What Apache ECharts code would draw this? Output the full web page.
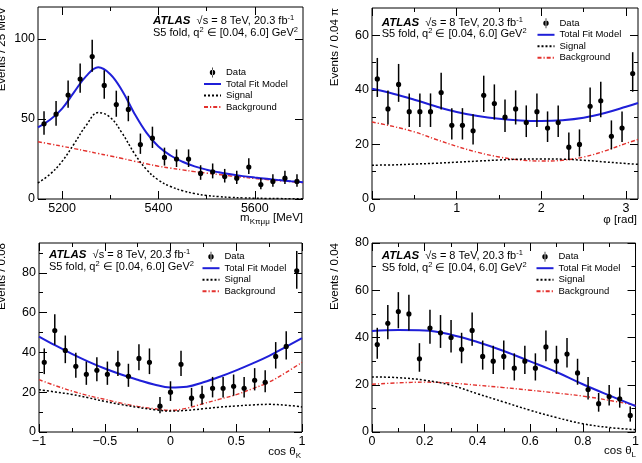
<!DOCTYPE html>
<html>
<head>
<meta charset="utf-8">
<script src="https://cdn.jsdelivr.net/npm/echarts@6/dist/echarts.min.js"></script>
<style>
html,body{margin:0;padding:0;background:#fff;}
#chart{width:642px;height:463px;}
</style>
</head>
<body>
<div id="chart"></div>
<script>
// ---------------- Panel 1 : m(K pi mu mu) ----------------
const massBins = [5162.5,5187.5,5212.5,5237.5,5262.5,5287.5,5312.5,5337.5,5362.5,5387.5,5412.5,5437.5,5462.5,5487.5,5512.5,5537.5,5562.5,5587.5,5612.5,5637.5,5662.5,5687.5];
const massData = [47,53,65,75,89,71,59,56,34,38,26,25,25,16,17,14,13,20,9,11,13,11];
const massErrLo = [6.8,7.2,8.0,8.6,9.4,8.4,7.6,7.4,5.8,6.1,5.1,5.0,5.0,4.0,4.1,3.7,3.6,4.4,2.9,3.3,3.6,3.3];
const massErrHi = [7.9,8.3,9.1,9.7,10.5,9.5,8.7,8.5,6.9,7.2,6.1,6.0,6.0,5.1,5.2,4.8,4.6,5.5,4.1,4.4,4.6,4.4];
const massCurveX = [5150,5175,5200,5225,5250,5275,5300,5325,5350,5375,5400,5425,5450,5475,5500,5525,5550,5575,5600,5625,5650,5675,5700];
const massTotal = [44.8,49.5,56.5,66.8,76.8,82.3,78.0,67.5,53.5,41.5,32.8,27.2,23.3,20.4,18.3,16.7,15.4,14.3,13.4,12.6,11.8,11.1,10.5];
const massSignal = [10.0,15.5,23.5,34.5,46.0,54.0,51.0,41.0,28.5,18.5,11.8,7.8,5.2,3.4,2.2,1.5,1.0,0.7,0.5,0.35,0.25,0.18,0.12];
const massBackground = [35.8,34.4,33.0,31.5,30.0,28.4,26.9,25.3,23.6,22.0,20.5,19.3,18.2,17.1,16.2,15.3,14.4,13.6,12.8,12.1,11.4,10.8,10.2];
const massXTicks = [5200,5400,5600];
const massXMinor = [5300,5500];
const massYTicks = [0,50,100];
const massYMinor = [];

// ---------------- Panel 2 : phi ----------------
const phiBins = [0.0628,0.1885,0.3142,0.4398,0.5655,0.6912,0.8168,0.9425,1.0681,1.1938,1.3195,1.4451,1.5708,1.6965,1.8221,1.9478,2.0735,2.1991,2.3248,2.4504,2.5761,2.7018,2.8274,2.9531,3.0788];
const phiData = [44,33,42,32,32,32,39,27,27,25,38,35,30,33,28,32,26,28,19,20,34,36,23,26,46];
const phiErrLo = [6.6,5.7,6.4,5.6,5.6,5.6,6.2,5.2,5.2,5.0,6.1,5.9,5.4,5.7,5.3,5.6,5.1,5.3,4.3,4.4,5.8,6.0,4.8,5.1,6.7];
const phiErrHi = [7.7,6.8,7.5,6.7,6.7,6.7,7.3,6.3,6.3,6.1,7.2,7.0,6.5,6.8,6.3,6.7,6.1,6.3,5.4,5.5,6.9,7.0,5.8,6.1,7.8];
const phiCurveX = [0,0.25,0.5,0.75,1,1.25,1.5,1.75,2,2.25,2.5,2.75,3,3.1416];
const phiTotal = [40.4,38.6,36.4,34.0,31.9,30.4,29.4,28.8,28.6,28.9,29.8,31.5,33.8,35.2];
const phiSignal = [12.4,12.5,12.8,13.1,13.5,13.9,14.3,14.6,14.7,14.6,14.2,13.6,13.0,12.7];
const phiBackground = [28.2,26.6,24.6,21.9,19.3,17.1,15.4,14.3,13.9,14.2,15.4,17.6,20.4,21.8];
const phiXTicks = [0,1,2,3];
const phiXMinor = [0.5,1.5,2.5];
const phiYTicks = [0,20,40,60];
const phiYMinor = [10,30,50];

// ---------------- Panel 3 : cos theta_K ----------------
const cosKBins = [-0.96,-0.88,-0.80,-0.72,-0.64,-0.56,-0.48,-0.40,-0.32,-0.24,-0.16,-0.08,0,0.08,0.16,0.24,0.32,0.40,0.48,0.56,0.64,0.72,0.80,0.88,0.96];
const cosKData = [35,51,41,33,29,31,29,34,28,37,35,13,20,34,17,18,22,22,23,22,26,25,38,43,81];
const cosKErrLo = [5.9,7.1,6.4,5.7,5.3,5.5,5.3,5.8,5.3,6.0,5.9,3.6,4.4,5.8,4.1,4.2,4.6,4.6,4.8,4.6,5.1,5.0,6.1,6.5,9.0];
const cosKErrHi = [7.0,8.2,7.5,6.8,6.4,6.6,6.4,6.9,6.3,7.1,7.0,4.6,5.5,6.9,5.2,5.3,5.7,5.7,5.9,5.7,6.1,6.0,7.2,7.6,10.0];
const cosKCurveX = [-1,-0.875,-0.75,-0.625,-0.5,-0.375,-0.25,-0.125,0,0.125,0.25,0.375,0.5,0.625,0.75,0.875,1];
const cosKTotal = [48.0,43.5,39.3,35.4,31.9,28.9,26.3,23.9,22.4,22.8,25.0,27.8,31.0,34.5,38.3,42.7,47.2];
const cosKSignal = [21.3,20.1,18.9,17.2,15.4,13.8,12.4,11.2,10.5,10.9,11.7,12.5,13.1,13.6,13.9,13.5,12.6];
const cosKBackground = [26.3,23.3,20.6,18.3,16.4,14.5,12.9,11.7,10.9,12.0,14.3,16.5,18.8,21.8,25.1,29.8,35.0];
const cosKXTicks = [-1,-0.5,0,0.5,1];
const cosKXMinor = [-0.75,-0.25,0.25,0.75];
const cosKYTicks = [0,20,40,60,80];
const cosKYMinor = [10,30,50,70,90];

// ---------------- Panel 4 : cos theta_L ----------------
const cosLBins = [0.02,0.06,0.10,0.14,0.18,0.22,0.26,0.30,0.34,0.38,0.42,0.46,0.50,0.54,0.58,0.62,0.66,0.70,0.74,0.78,0.82,0.86,0.90,0.94,0.98];
const cosLData = [37,46,51,50,31,44,42,40,35,43,32,30,32,27,30,27,36,30,33,25,18,12,15,14,7];
const cosLErrLo = [6.0,6.7,7.1,7.0,5.5,6.6,6.4,6.3,5.9,6.5,5.6,5.4,5.6,5.2,5.4,5.2,6.0,5.4,5.7,5.0,4.2,3.4,3.8,3.7,2.6];
const cosLErrHi = [7.1,7.8,8.2,8.1,6.6,7.7,7.5,7.4,7.0,7.6,6.7,6.5,6.7,6.3,6.5,6.3,7.0,6.5,6.8,6.0,5.3,4.5,4.9,4.8,3.8];
const cosLCurveX = [0,0.1,0.2,0.3,0.4,0.5,0.6,0.7,0.8,0.9,1];
const cosLTotal = [42.8,43.2,43.0,41.2,38.1,34.3,29.9,25.4,20.2,15.5,11.0];
const cosLSignal = [23.3,23.0,21.9,19.8,16.2,12.7,9.2,6.1,3.5,1.9,1.0];
const cosLBackground = [20.2,20.8,21.1,20.7,19.8,18.8,17.7,16.5,15.2,13.4,11.3];
const cosLXTicks = [0,0.2,0.4,0.6,0.8,1];
const cosLXMinor = [0.1,0.3,0.5,0.7,0.9];
const cosLYTicks = [0,20,40,60,80];
const cosLYMinor = [10,30,50,70];

// ---------------- Texts ----------------
const atlasLabel = 'ATLAS';
const energyText = '√s = 8 TeV, 20.3 fb';
const energySup = '-1';
const foldText = 'S5 fold, q';
const foldRest = ' ∈ [0.04, 6.0] GeV';
const legendNames = ['Data','Total Fit Model','Signal','Background'];

// ---------------- Layout / style ----------------
const FONT = '"Liberation Sans", Arial, Helvetica, sans-serif';
const BLUE = '#1f1fd8', RED = '#e3312d', BLACK = '#000';

const panels = [
  {grid:{left:38,top:7,width:265,height:192}, xMin:5150, xMax:5700, yMax:120,
   bins:massBins, data:massData, lo:massErrLo, hi:massErrHi, cx:massCurveX, tot:massTotal, sig:massSignal, bkg:massBackground,
   xT:massXTicks, xM:massXMinor, yT:massYTicks, yM:massYMinor, fmt:v=>String(v),
   legend:[203,67.5], atlas:[153,21,32.5], ytitle:{x:2,y:7,text:'Events / 25 MeV'},
   xtitle:{x:303,y:218,main:'m',sub:'Kπμμ',rest:' [MeV]'}},
  {grid:{left:372,top:8,width:266,height:191}, xMin:0, xMax:3.14159, yMax:70,
   bins:phiBins, data:phiData, lo:phiErrLo, hi:phiErrHi, cx:phiCurveX, tot:phiTotal, sig:phiSignal, bkg:phiBackground,
   xT:phiXTicks, xM:phiXMinor, yT:phiYTicks, yM:phiYMinor, fmt:v=>String(v),
   legend:[536.5,18.3], atlas:[381.7,22.7,34], ytitle:{x:335,y:8,text:'Events / 0.04 π'},
   xtitle:{x:637,y:220,main:'φ [rad]',sub:'',rest:''}},
  {grid:{left:39,top:243,width:263,height:189}, xMin:-1, xMax:1, yMax:95,
   bins:cosKBins, data:cosKData, lo:cosKErrLo, hi:cosKErrHi, cx:cosKCurveX, tot:cosKTotal, sig:cosKSignal, bkg:cosKBackground,
   xT:cosKXTicks, xM:cosKXMinor, yT:cosKYTicks, yM:cosKYMinor, fmt:v=>String(v).replace('-', '−'),
   legend:[201.5,251.7], atlas:[49,255,266.7], ytitle:{x:2,y:243,text:'Events / 0.08'},
   xtitle:{x:301,y:452,main:'cos θ',sub:'K',rest:''}},
  {grid:{left:372,top:243,width:264,height:189}, xMin:0, xMax:1, yMax:80,
   bins:cosLBins, data:cosLData, lo:cosLErrLo, hi:cosLErrHi, cx:cosLCurveX, tot:cosLTotal, sig:cosLSignal, bkg:cosLBackground,
   xT:cosLXTicks, xM:cosLXMinor, yT:cosLYTicks, yM:cosLYMinor, fmt:v=>String(v),
   legend:[535.5,251.7], atlas:[381.7,256,267.7], ytitle:{x:335,y:243,text:'Events / 0.04'},
   xtitle:{x:636,y:451,main:'cos θ',sub:'L',rest:''}}
];

function tick(len, values) {
  return {show: values.length > 0, inside:true, length:len, customValues: values.length ? values : undefined,
          lineStyle:{color:BLACK, width:1}};
}
function makeAxes(dim, gi, min, max, major, minor, fmt) {
  const pos = dim === 'x' ? ['bottom','top'] : ['left','right'];
  const base = {type:'value', gridIndex:gi, min:min, max:max, splitLine:{show:false},
                axisLine:{show:false, onZero:false}, axisLabel:{show:false}};
  return [
    Object.assign({}, base, {position:pos[0], axisTick:tick(8, major),
      axisLabel:{show:true, customValues:major, formatter:fmt, fontSize:12.5, color:BLACK, fontFamily:FONT, margin:3}}),
    Object.assign({}, base, {position:pos[0], axisTick:tick(4, minor)}),
    Object.assign({}, base, {position:pos[1], axisTick:tick(8, major)}),
    Object.assign({}, base, {position:pos[1], axisTick:tick(4, minor)})
  ];
}

const xAxis = [], yAxis = [], series = [], grid = [], legend = [], graphic = [];
const DATA_ICON = 'path://M2.15,0h0.7v10h-0.7z M-0.2,5a2.7,2.7 0 1,0 5.4,0a2.7,2.7 0 1,0 -5.4,0z';

panels.forEach((p, gi) => {
  grid.push(Object.assign({show:true, borderColor:BLACK, borderWidth:1, backgroundColor:'transparent'}, p.grid));
  xAxis.push(...makeAxes('x', gi, p.xMin, p.xMax, p.xT, p.xM, p.fmt));
  yAxis.push(...makeAxes('y', gi, 0, p.yMax, p.yT, p.yM, v=>String(v)));
  const xi = gi*4, yi = gi*4;
  const pairs = (ys) => p.cx.map((x,i)=>[x, ys[i]]);
  series.push({name:'Background', type:'line', xAxisIndex:xi, yAxisIndex:yi, data:pairs(p.bkg), smooth:0.4,
    symbol:'none', lineStyle:{color:RED, width:1.4, type:[4,2,1.2,2]}, itemStyle:{color:RED}, z:2});
  series.push({name:'Signal', type:'line', xAxisIndex:xi, yAxisIndex:yi, data:pairs(p.sig), smooth:0.4,
    symbol:'none', lineStyle:{color:BLACK, width:1.5, type:[2,2]}, itemStyle:{color:BLACK}, z:2});
  series.push({name:'Total Fit Model', type:'line', xAxisIndex:xi, yAxisIndex:yi, data:pairs(p.tot), smooth:0.4,
    symbol:'none', lineStyle:{color:BLUE, width:2}, itemStyle:{color:BLUE}, z:3});
  series.push({name:'Data', type:'custom', xAxisIndex:xi, yAxisIndex:yi, itemStyle:{color:BLACK}, z:4,
    data:p.bins.map((x,i)=>[x, p.data[i], p.lo[i], p.hi[i]]),
    encode:{x:0, y:1},
    renderItem:function(params, api){
      const x = api.value(0), y = api.value(1);
      const c = api.coord([x, y]);
      const top = api.coord([x, y + api.value(3)]);
      const bot = api.coord([x, y - api.value(2)]);
      return {type:'group', children:[
        {type:'line', shape:{x1:c[0], y1:top[1], x2:c[0], y2:bot[1]}, style:{stroke:BLACK, lineWidth:1.5}},
        {type:'circle', shape:{cx:c[0], cy:c[1], r:2.6}, style:{fill:BLACK}}
      ]};
    }});

  legend.push({left:p.legend[0], top:p.legend[1], orient:'vertical', padding:0, itemGap:1.5,
    itemWidth:17, itemHeight:10, selectedMode:false,
    textStyle:{fontSize:9.5, color:BLACK, fontFamily:FONT},
    data:[{name:legendNames[0], icon:DATA_ICON},
          {name:legendNames[1], itemStyle:{opacity:0}},
          {name:legendNames[2], itemStyle:{opacity:0}},
          {name:legendNames[3], itemStyle:{opacity:0}}]});

  // ATLAS label
  graphic.push({type:'text', x:p.atlas[0], y:p.atlas[1], silent:true, style:{
    text:'{b|' + atlasLabel + '}  ' + energyText + '{sup|' + energySup + '}',
    fill:BLACK, fontSize:11, fontFamily:FONT, lineHeight:14, align:'left', verticalAlign:'middle',
    rich:{b:{fontSize:11.5, fontWeight:'bold', fontStyle:'italic', fontFamily:FONT, lineHeight:14},
          sup:{fontSize:7.5, fontFamily:FONT, verticalAlign:'top', lineHeight:8}}}});
  graphic.push({type:'text', x:p.atlas[0], y:p.atlas[2], silent:true, style:{
    text:foldText + '{sup|2}' + foldRest + '{sup|2}',
    fill:BLACK, fontSize:11, fontFamily:FONT, lineHeight:14, align:'left', verticalAlign:'middle',
    rich:{sup:{fontSize:7.5, fontFamily:FONT, verticalAlign:'top', lineHeight:8}}}});
  // y title
  graphic.push({type:'text', x:p.ytitle.x, y:p.ytitle.y, rotation:Math.PI/2, silent:true, style:{
    text:p.ytitle.text, fill:BLACK, fontSize:11.5, fontFamily:FONT, align:'right', verticalAlign:'middle'}});
  // x title
  const xt = p.xtitle;
  graphic.push({type:'text', x:xt.x, y:xt.y, silent:true, style:{
    text: xt.main + (xt.sub ? '{s|' + xt.sub + '}' : '') + xt.rest,
    fill:BLACK, fontSize:11.5, fontFamily:FONT, lineHeight:16, align:'right', verticalAlign:'middle',
    rich:{s:{fontSize:8, fontFamily:FONT, verticalAlign:'bottom', lineHeight:8}}}});
});

const chart = echarts.init(document.getElementById('chart'), null, {renderer:'canvas'});
chart.setOption({animation:false, backgroundColor:'#fff', grid, xAxis, yAxis, legend, series, graphic});
</script>
</body>
</html>
